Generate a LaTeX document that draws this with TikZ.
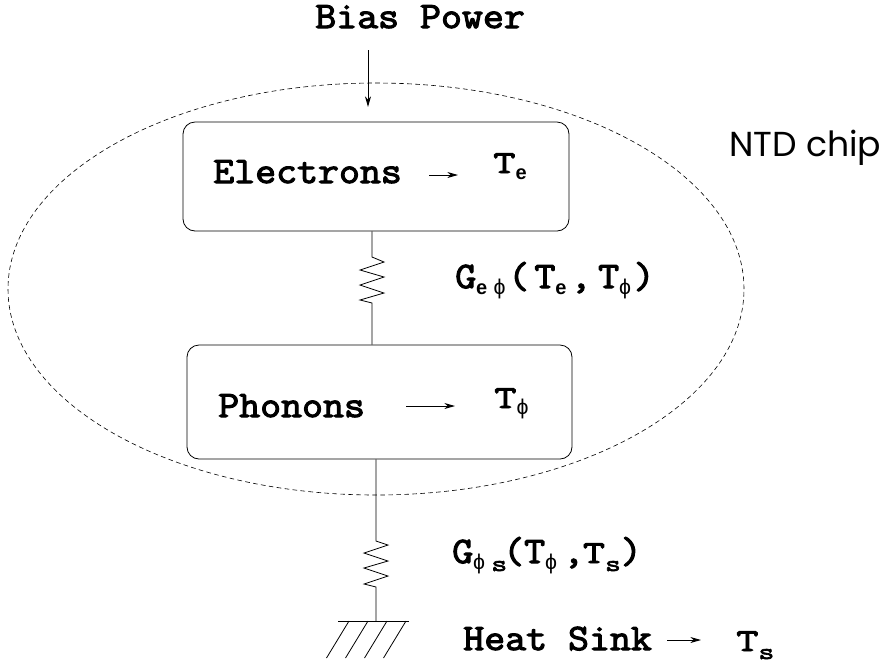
\documentclass[tikz,border=0pt]{standalone}
\usepackage{fontspec}
\usetikzlibrary{shapes.geometric,arrows.meta}
\setsansfont{Poppins}
\newfontfamily\subfont{Liberation Sans}
\newfontfamily\courfont{Latin Modern Mono}[FakeBold=3,FakeStretch=1.09]
\newfontfamily\widefont{Latin Modern Mono}[FakeBold=3,FakeStretch=1.35]
\newcommand{\sube}{\raisebox{-5pt}{\fontsize{15}{15}\subfont\bfseries e}}
\newcommand{\subs}{\raisebox{-6pt}{\fontsize{17}{17}\widefont s}}
\newcommand{\subphi}{\raisebox{-5pt}{\fontsize{16}{16}\subfont\symbol{"03D5}}}
\newcommand{\smallT}{{\fontsize{24}{24}\widefont T}}
\tikzset{
    lbl/.style={anchor=base west, inner sep=0pt, font=\fontsize{28}{28}\courfont},
    chipbox/.style={draw, rounded corners=9pt, line width=0.6pt},
    wire/.style={line width=0.6pt},
    thin arrow/.style={line width=0.7pt, -{Stealth[length=8pt,width=4.5pt,inset=2.5pt]}},
}
\begin{document}
\begin{tikzpicture}[x=0.75pt, y=-0.75pt]
    \useasboundingbox (0,0) rectangle (882,662);
    \node[draw, dash pattern=on 3.5pt off 2.5pt, ellipse, minimum width=552pt, minimum height=309pt, inner sep=0pt, line width=0.45pt] (chip) at (376,289) {};
    \node[chipbox, minimum width=289.5pt, minimum height=81.75pt, inner sep=0pt] (electrons) at (376,176.5) {};
    \node[chipbox, minimum width=288.75pt, minimum height=85.5pt, inner sep=0pt] (phonons) at (379.5,402) {};
    % top labels
    \node[lbl] (bias) at (315,28) {Bias Power};
    \coordinate (biastail) at (368,50);
    \coordinate (biashead) at (368,107);
    \draw[thin arrow] (biastail) -- (biashead);
    \node[lbl] (elec) at (213,183) {Electrons};
    \node[lbl] (te) at (493,173) {\smallT\sube};
    \coordinate (ea) at (429,175);
    \coordinate (eb) at (458,175);
    \draw[thin arrow] (ea) -- (eb);
    \node[lbl] (phon) at (218,417) {Phonons};
    \node[lbl] (tp) at (494,408) {\smallT\subphi};
    \coordinate (pa) at (406,406);
    \coordinate (pb) at (455,406);
    \draw[thin arrow] (pa) -- (pb);
    \node[lbl] (gep) at (455,288) {G\sube\,\subphi\hspace{2pt}(\hspace{4pt}T\sube\hspace{3pt},\hspace{5pt}T\subphi\hspace{2pt})};
    \node[lbl] (gps) at (452,563) {G\subphi\,\subs\hspace{-3pt}(T\subphi\,,\hspace{-1pt}\smallT\subs)};
    \node[lbl] (sink) at (463,650) {Heat Sink};
    \coordinate (sa) at (667,640);
    \coordinate (sb) at (701,640);
    \draw[thin arrow] (sa) -- (sb);
    \node[lbl] (ts) at (736,651) {\smallT\subs};
    \node[anchor=base west, inner sep=0pt, font=\fontsize{26}{26}\sffamily] (ntd) at (729,156) {NTD chip};
    % resistors
    \coordinate (r1a) at (372,257);
    \coordinate (r1b) at (372,303);
    \draw[wire] (electrons.south -| r1a) -- (r1a) -- (384,262) -- (360,270) -- (384,277) -- (360,285) -- (384,293) -- (360,300) -- (r1b) -- (phonons.north -| r1b);
    \coordinate (r2a) at (376,541);
    \coordinate (r2b) at (376,587);
    \coordinate (gnd) at (376,621);
    \draw[wire] (phonons.south -| r2a) -- (r2a) -- (388,545) -- (364,553) -- (388,561) -- (364,568) -- (388,576) -- (364,584) -- (r2b) -- (gnd);
    % ground
    \coordinate (gl) at (338,621);
    \coordinate (gr) at (409,621);
    \draw[wire] (gl) -- (gr);
    \foreach \i in {349,368,387,406}
        \draw[wire] (\i,621) -- (\i-22.5,658);
\end{tikzpicture}
\end{document}
